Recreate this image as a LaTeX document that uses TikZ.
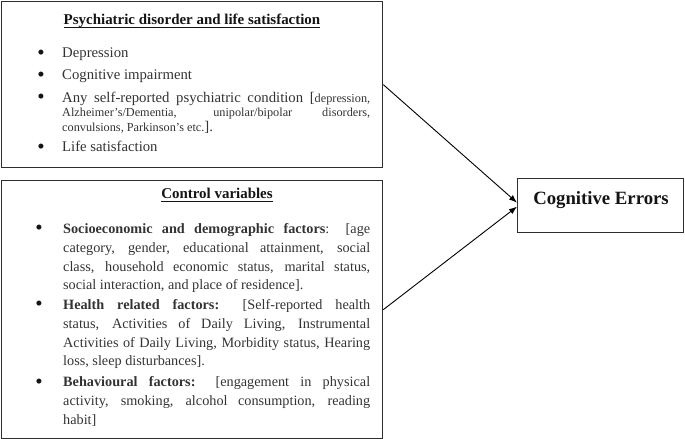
\documentclass[tikz,border=0pt]{standalone}
\usepackage{fontspec}
\setmainfont{Liberation Serif}
\usetikzlibrary{arrows.meta}
\definecolor{bodygray}{HTML}{333333}
\definecolor{headblack}{HTML}{141414}
\definecolor{framegray}{HTML}{2E2E2E}
\begin{document}
\begin{tikzpicture}[x=1bp,y=-1bp,
  boxframe/.style={draw=framegray,line width=1.3bp,inner sep=0,anchor=north west},
  heading/.style={inner sep=0,anchor=base,text=headblack,font=\fontsize{15}{18}\selectfont\bfseries},
  bul/.style={inner sep=0,anchor=base,yshift=-2bp,text=headblack,font=\fontsize{21}{22}\selectfont},
  lineA/.style={inner sep=0,anchor=base west,text=bodygray,font=\fontsize{14.8}{16}\selectfont},
  itemA/.style={inner sep=0,anchor=north west,text=bodygray,text width=308bp,align=justify,font=\fontsize{14.8}{14.5}\selectfont},
  itemB/.style={inner sep=0,anchor=north west,text=bodygray,text width=307bp,align=justify,font=\fontsize{14.3}{19}\selectfont},
  uline/.style={draw=headblack,line width=0.9bp},
  conn/.style={draw=black,line width=0.9bp,-{Latex[length=8bp,width=6bp]}}
]
\useasboundingbox (0,0) rectangle (685,439);

% boxes
\node[boxframe,minimum width=381bp,minimum height=166bp] (box1) at (1,1) {};
\node[boxframe,minimum width=381bp,minimum height=258bp] (box2) at (1,180) {};
\node[boxframe,minimum width=166bp,minimum height=54bp] (ce) at (517,178) {};
\node[inner sep=0,anchor=base,text=headblack,font=\fontsize{18.8}{20}\selectfont\bfseries] (cet) at (601,205) {Cognitive Errors};

% box 1
\node[heading] (h1) at (192,25) {Psychiatric disorder and life satisfaction};
\draw[uline] ([yshift=-2bp]h1.base west) -- ([yshift=-2bp]h1.base east);
\node[bul] (b11) at (41,58) {\textbullet};
\node[lineA] (t11) at (62,58) {Depression};
\node[bul] (b12) at (41,80) {\textbullet};
\node[lineA] (t12) at (62,80) {Cognitive impairment};
\node[bul] (b13) at (41,102) {\textbullet};
\node[itemA] (t13) at (62,89) {\noindent\rule{0pt}{13bp}Any self-reported psychiatric condition [{\fontsize{12.3}{14.5}\selectfont depression,\linebreak Alzheimer's/Dementia, unipolar/bipolar disorders,\linebreak convulsions, Parkinson's etc.}].};
\node[bul] (b14) at (41,152) {\textbullet};
\node[lineA] (t14) at (62,152) {Life satisfaction};

% box 2
\node[heading] (h2) at (217,199) {Control variables};
\draw[uline] ([yshift=-2bp]h2.base west) -- ([yshift=-2bp]h2.base east);
\node[bul] (b21) at (39,233) {\textbullet};
\node[itemB] (t21) at (63,220) {\noindent\rule{0pt}{13bp}\textbf{Socioeconomic and demographic factors}: [age\linebreak category, gender, educational attainment, social\linebreak class, household economic status, marital status,\linebreak social interaction, and place of residence].};
\node[bul] (b22) at (39,309) {\textbullet};
\node[itemB] (t22) at (63,296) {\noindent\rule{0pt}{13bp}\textbf{Health related factors:} [Self-reported health\linebreak status, Activities of Daily Living, Instrumental\linebreak Activities of Daily Living, Morbidity status, Hearing\linebreak loss, sleep disturbances].};
\node[bul] (b23) at (39,386) {\textbullet};
\node[itemB] (t23) at (63,373) {\noindent\rule{0pt}{13bp}\textbf{Behavioural factors:} [engagement in physical\linebreak activity, smoking, alcohol consumption, reading\linebreak habit]};

% connectors
\draw[conn] (box1.east) -- ([yshift=3bp]ce.west);
\draw[conn] (box2.east) -- ([yshift=-1bp]ce.west);
\end{tikzpicture}
\end{document}
